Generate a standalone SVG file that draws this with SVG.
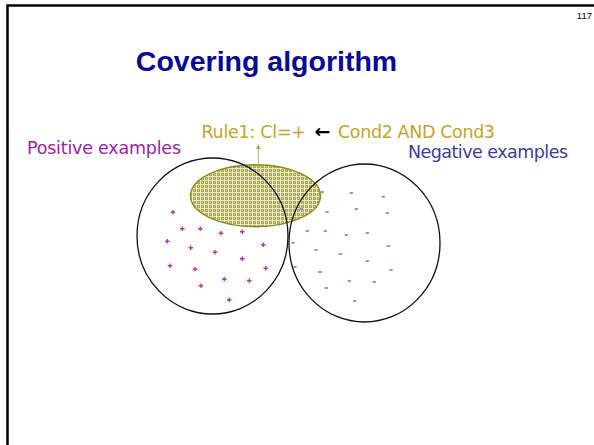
<svg xmlns="http://www.w3.org/2000/svg" xmlns:xlink="http://www.w3.org/1999/xlink" width="594" height="445" viewBox="0 0 594 445">
<style>
.lbl{font-family:"DejaVu Sans","Verdana",sans-serif;font-size:17.5px}
.gold{fill:#C9A128}
.set{fill:none;stroke:#111;stroke-width:1.3}
.pl{stroke:#B733B7;stroke-width:1.4;fill:none}
.mi{fill:#7A7AC8}
</style>
<defs>
<pattern id="plaid" width="4" height="4" patternUnits="userSpaceOnUse">
<rect width="4" height="4" fill="#A9A94C"/>
<rect x="0" y="0" width="4" height="1" fill="#FFFFFF" opacity="0.7"/>
<rect x="0" y="0" width="1" height="4" fill="#FFFFFF" opacity="0.7"/>
<rect x="2" y="2" width="1" height="1" fill="#D8D8A8"/>
</pattern>
<path id="plus" d="M-2.3,0H2.3M0,-2.3V2.3" class="pl"/>
<rect id="minus" x="-1.6" y="-0.8" width="3.2" height="1.6" class="mi"/>
<marker id="ah" markerWidth="6" markerHeight="6" refX="3" refY="3" orient="auto" markerUnits="userSpaceOnUse">
<path d="M0,0.8L5,3L0,5.2Z" fill="#A8A850"/>
</marker>
</defs>
<rect width="594" height="445" fill="#FFFFFF"/>
<rect x="7.5" y="5.5" width="600" height="460" fill="none" stroke="#000" stroke-width="2.5"/>
<text x="592" y="18.5" text-anchor="end" font-family="Liberation Sans, Arial, sans-serif" font-size="9.5" fill="#000">117</text>
<text id="title" x="266.5" y="71" text-anchor="middle" font-family="Liberation Sans, Arial, sans-serif" font-weight="bold" font-size="28.5" fill="#0A0A96">Covering algorithm</text>

<g id="rule-ellipse">
<ellipse cx="255.5" cy="195.7" rx="65" ry="31" fill="url(#plaid)" stroke="#8C8C1E" stroke-width="1.4"/>
</g>
<g id="positive-set">
<ellipse cx="212.5" cy="236" rx="75.5" ry="78" class="set"/>
<text class="lbl" x="27" y="154" fill="#A020A8" textLength="154">Positive examples</text>
<g id="plus-signs">
<use xlink:href="#plus" x="173" y="212.3"/>
<use xlink:href="#plus" x="182.3" y="228.7"/>
<use xlink:href="#plus" x="200.3" y="228.7"/>
<use xlink:href="#plus" x="221" y="233.3"/>
<use xlink:href="#plus" x="242.3" y="231.7"/>
<use xlink:href="#plus" x="167.3" y="241.3"/>
<use xlink:href="#plus" x="190.7" y="247.7"/>
<use xlink:href="#plus" x="215" y="252.3"/>
<use xlink:href="#plus" x="263.3" y="244.7"/>
<use xlink:href="#plus" x="242.3" y="258.7"/>
<use xlink:href="#plus" x="170" y="265.7"/>
<use xlink:href="#plus" x="195" y="269.3"/>
<use xlink:href="#plus" x="265.7" y="268.3"/>
<use xlink:href="#plus" x="224.3" y="279.3"/>
<use xlink:href="#plus" x="249.3" y="280.7"/>
<use xlink:href="#plus" x="201" y="285.7"/>
<use xlink:href="#plus" x="229.3" y="299.7"/>
</g>
</g>
<g id="negative-set">
<ellipse cx="364.5" cy="243" rx="75.5" ry="79" class="set"/>
<text class="lbl" x="408" y="158" fill="#3C3C9C" textLength="160">Negative examples</text>
<g id="minus-signs">
<use xlink:href="#minus" x="322.3" y="192"/>
<use xlink:href="#minus" x="351.3" y="193"/>
<use xlink:href="#minus" x="383.3" y="196.7"/>
<use xlink:href="#minus" x="301.3" y="209"/>
<use xlink:href="#minus" x="327" y="212"/>
<use xlink:href="#minus" x="356.3" y="209"/>
<use xlink:href="#minus" x="387.3" y="213"/>
<use xlink:href="#minus" x="307.3" y="231"/>
<use xlink:href="#minus" x="325.3" y="231"/>
<use xlink:href="#minus" x="346.3" y="235"/>
<use xlink:href="#minus" x="367.3" y="233"/>
<use xlink:href="#minus" x="293" y="242.7"/>
<use xlink:href="#minus" x="316" y="250"/>
<use xlink:href="#minus" x="340.3" y="254"/>
<use xlink:href="#minus" x="388.3" y="246"/>
<use xlink:href="#minus" x="367.3" y="261"/>
<use xlink:href="#minus" x="295" y="267"/>
<use xlink:href="#minus" x="320" y="272"/>
<use xlink:href="#minus" x="349.3" y="281"/>
<use xlink:href="#minus" x="374.3" y="282"/>
<use xlink:href="#minus" x="391" y="270"/>
<use xlink:href="#minus" x="326.3" y="288"/>
<use xlink:href="#minus" x="354.7" y="301"/>
</g>
</g>
<g id="rule-label">
<text class="lbl gold" x="201.5" y="137.5" textLength="104.5">Rule1: Cl=+</text>
<text x="314.5" y="138" font-family="DejaVu Sans, sans-serif" font-size="19" font-weight="bold" fill="#000" textLength="18.5">←</text>
<text class="lbl gold" x="338" y="137.5" textLength="157">Cond2 AND Cond3</text>
</g>
<g id="connectors">
<line x1="258.3" y1="164.7" x2="258.3" y2="146" stroke="#B0B060" stroke-width="1" marker-end="url(#ah)"/>
</g>
</svg>
